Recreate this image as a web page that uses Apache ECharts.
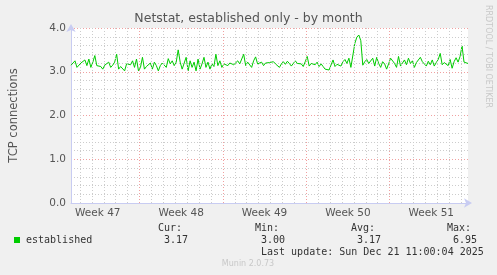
<!DOCTYPE html>
<html><head><meta charset="utf-8">
<script src="https://cdn.jsdelivr.net/npm/echarts@6/dist/echarts.min.js"></script>
<style>html,body{margin:0;padding:0;background:#f0f0f0}#c{width:497px;height:275px}</style>
</head><body><div id="c"></div>
<script>
// Hours are counted from Monday Nov 17 2025 00:00 (start of Week 47)
var startHour = 30;      // first sample
var stepHours = 4;       // spacing of samples
var endHour = 830;
var weekLabels = ['Week 47', 'Week 48', 'Week 49', 'Week 50', 'Week 51'];
var yTicks = [0, 1, 2, 3, 4];
var established = [
 3.15,3.14,3.25,3.10,3.10,3.20,3.18,3.27,3.14,3.29,3.10,3.22,3.37,3.14,3.18,3.12,3.06,3.15,3.18,3.22,
 3.10,3.15,3.22,3.40,3.06,3.12,3.10,3.02,3.18,3.14,3.16,3.25,3.10,3.29,3.02,3.10,3.33,3.06,3.12,3.14,
 3.20,3.06,3.22,3.14,3.02,3.14,3.20,3.18,3.10,3.30,3.18,3.25,3.14,3.22,3.50,3.22,3.06,3.10,3.33,3.02,
 3.25,3.10,3.22,3.02,3.29,3.06,3.18,3.33,3.10,3.22,3.06,3.18,3.12,3.40,3.14,3.25,3.10,3.18,3.16,3.14,
 3.20,3.22,3.16,3.14,3.25,3.18,3.22,3.40,3.14,3.22,3.20,3.10,3.25,3.34,3.18,3.20,3.22,3.14,3.20,3.18,
 3.21,3.17,3.23,3.18,3.16,3.10,3.18,3.23,3.17,3.24,3.19,3.13,3.19,3.25,3.19,3.15,3.18,3.12,3.23,3.35,
 3.13,3.19,3.23,3.16,3.22,3.12,3.18,3.12,3.06,3.08,3.04,3.00,3.27,3.12,3.17,3.13,3.13,3.23,3.28,3.19,
 3.31,3.10,3.08,3.65,3.79,3.84,3.71,3.15,3.23,3.28,3.19,3.21,3.31,3.13,3.33,3.19,3.10,3.23,3.18,3.06,
 3.18,3.31,3.35,3.19,3.10,3.35,3.13,3.12,3.27,3.16,3.31,3.19,3.25,3.10,3.21,3.22,3.33,3.23,3.18,3.13,
 3.24,3.16,3.27,3.13,3.21,3.28,3.42,3.16,3.21,3.22,3.14,3.28,3.08,3.23,3.32,3.22,3.35,3.59,3.22,3.19,3.19
];
var stats = {cur: '3.17', min: '3.00', avg: '3.17', max: '6.95'};

var pts = established.map(function(v, i){ return [startHour + i*stepHours, v]; });
var dayLines = [], weekLines = [], weekMids = [];
for (var h = 24; h < endHour; h += 24) {
  if (h % 168 === 0) weekLines.push({xAxis: h}); else dayLines.push({xAxis: h});
}
for (var w = 0; w < weekLabels.length; w++) weekMids.push(w*168 + 84);

var chart = echarts.init(document.getElementById('c'), null, {renderer: 'canvas'});
var mono = '"DejaVu Sans Mono", monospace';
var sans = '"DejaVu Sans", sans-serif';
chart.setOption({
  backgroundColor: '#f0f0f0',
  animation: false,
  grid: {left: 67, right: 29, top: 28, bottom: 72, show: true, backgroundColor: '#ffffff', borderWidth: 0},
  xAxis: {
    type: 'value', min: startHour, max: endHour,
    axisLine: {show: true, lineStyle: {color: '#c8ccf2', width: 1}, symbol: ['none', 'arrow'], symbolSize: [7, 8], symbolOffset: [0, 4]},
    axisTick: {show: false},
    splitLine: {show: false},
    axisLabel: {customValues: weekMids, color: '#555', fontFamily: sans, fontSize: 10.5, margin: 5,
      formatter: function(v){ return weekLabels[Math.round((v - 84)/168)]; }}
  },
  yAxis: {
    type: 'value', min: 0, max: 4, interval: 1,
    axisLine: {show: true, lineStyle: {color: '#c8ccf2', width: 1}, symbol: ['none', 'arrow'], symbolSize: [7, 8], symbolOffset: [0, 4]},
    axisTick: {show: false},
    splitLine: {show: true, lineStyle: {color: '#f0a0a0', type: [1, 2], width: 1}},
    minorTick: {show: false, splitNumber: 5},
    minorSplitLine: {show: true, lineStyle: {color: '#cccccc', type: [1, 2], width: 1}},
    axisLabel: {color: '#555', fontFamily: sans, fontSize: 10.5, margin: 5, formatter: function(v){ return v.toFixed(1); }},
    name: 'TCP connections', nameLocation: 'middle', nameGap: 51, nameRotate: 90,
    nameTextStyle: {color: '#555', fontFamily: sans, fontSize: 11.5}
  },
  series: [
    {type: 'line', data: [], silent: true,
     markLine: {silent: true, symbol: 'none', label: {show: false}, animation: false,
       lineStyle: {color: '#cccccc', type: [1, 2], width: 1}, data: dayLines}},
    {type: 'line', data: [], silent: true,
     markLine: {silent: true, symbol: 'none', label: {show: false}, animation: false,
       lineStyle: {color: '#f0a0a0', type: [1, 2], width: 1}, data: weekLines}},
    {type: 'line', name: 'established', data: pts, showSymbol: false, silent: true,
     lineStyle: {color: '#00cc00', width: 1}, itemStyle: {color: '#00cc00'}}
  ],
  graphic: [
    {type: 'text', left: 'center', top: 12, style: {text: 'Netstat, established only - by month', fill: '#555', font: '12.5px ' + sans}},
    {type: 'text', x: 488, y: 5, rotation: -Math.PI/2, style: {text: 'RRDTOOL / TOBI OETIKER', fill: '#c8c8c8', font: '8px ' + sans, align: 'left', verticalAlign: 'middle'}},
    {type: 'rect', shape: {x: 14, y: 237, width: 6, height: 6}, style: {fill: '#00cc00'}},
    {type: 'text', x: 26, y: 240, style: {text: 'established', fill: '#333', font: '10px ' + mono, verticalAlign: 'middle'}},
    {type: 'text', x: 158, y: 228, style: {text: 'Cur:', fill: '#333', font: '10px ' + mono, verticalAlign: 'middle'}},
    {type: 'text', x: 255, y: 228, style: {text: 'Min:', fill: '#333', font: '10px ' + mono, verticalAlign: 'middle'}},
    {type: 'text', x: 351, y: 228, style: {text: 'Avg:', fill: '#333', font: '10px ' + mono, verticalAlign: 'middle'}},
    {type: 'text', x: 447, y: 228, style: {text: 'Max:', fill: '#333', font: '10px ' + mono, verticalAlign: 'middle'}},
    {type: 'text', x: 164, y: 240, style: {text: stats.cur, fill: '#333', font: '10px ' + mono, verticalAlign: 'middle'}},
    {type: 'text', x: 261, y: 240, style: {text: stats.min, fill: '#333', font: '10px ' + mono, verticalAlign: 'middle'}},
    {type: 'text', x: 357, y: 240, style: {text: stats.avg, fill: '#333', font: '10px ' + mono, verticalAlign: 'middle'}},
    {type: 'text', x: 453, y: 240, style: {text: stats.max, fill: '#333', font: '10px ' + mono, verticalAlign: 'middle'}},
    {type: 'text', x: 261, y: 252, style: {text: 'Last update: Sun Dec 21 11:00:04 2025', fill: '#333', font: '10px ' + mono, verticalAlign: 'middle'}},
    {type: 'text', x: 248, y: 264, style: {text: 'Munin 2.0.73', fill: '#c8c8c8', font: '8px ' + sans, align: 'center', verticalAlign: 'middle'}}
  ]
});
</script></body></html>
